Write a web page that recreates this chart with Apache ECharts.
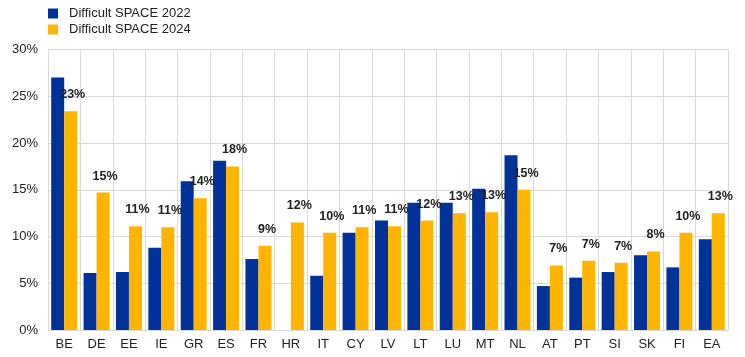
<!DOCTYPE html>
<html><head><meta charset="utf-8">
<script src="https://cdn.jsdelivr.net/npm/echarts@6/dist/echarts.min.js"></script>
<style>html,body{margin:0;padding:0;background:#fff}#c{width:745px;height:357px}</style>
</head><body><div id="c"></div>
<script>
const categories = ['BE','DE','EE','IE','GR','ES','FR','HR','IT','CY','LV','LT','LU','MT','NL','AT','PT','SI','SK','FI','EA'];
const space2022 = [27.0,6.1,6.2,8.8,15.9,18.1,7.6,null,5.8,10.4,11.7,13.6,13.6,15.1,18.7,4.7,5.6,6.2,8.0,6.7,9.7];
const space2024 = [23.4,14.7,11.1,11.0,14.1,17.5,9.0,11.5,10.4,11.0,11.1,11.7,12.5,12.6,15.0,6.9,7.4,7.2,8.4,10.4,12.5];
const seriesNames = ['Difficult SPACE 2022','Difficult SPACE 2024'];
const yTicks = [0,5,10,15,20,25,30];

const chart = echarts.init(document.getElementById('c'));
const font = 'Arial, "Liberation Sans", sans-serif';
chart.setOption({
  animation:false,
  textStyle:{fontFamily:font},
  legend:{
    orient:'vertical', left:43, top:2, itemWidth:10, itemHeight:10, itemGap:3,
    icon:'rect',
    textStyle:{fontSize:13, color:'#222', fontFamily:font, padding:[0,0,0,6]},
    data:seriesNames
  },
  grid:{left:48, right:17, top:49.5, bottom:27, containLabel:false},
  xAxis:{
    type:'category', data:categories,
    axisLine:{show:true, lineStyle:{color:'#d9d9d9', width:1}},
    axisTick:{show:false},
    axisLabel:{color:'#222', fontSize:13, margin:8, fontFamily:font, interval:0},
    splitLine:{show:true, lineStyle:{color:'#d9d9d9', width:1}}
  },
  yAxis:{
    type:'value', min:0, max:30, interval:5,
    axisLabel:{formatter:v=>v+'%', color:'#222', fontSize:13, margin:10, fontFamily:font},
    axisLine:{show:false}, axisTick:{show:false},
    splitLine:{lineStyle:{color:'#d9d9d9', width:1}}
  },
  series:[
    {name:seriesNames[0], type:'bar', data:space2022, barWidth:13, barGap:'0%',
     itemStyle:{color:'#003299'}},
    {name:seriesNames[1], type:'bar', data:space2024, barWidth:13, barGap:'0%',
     itemStyle:{color:'#FFB400'},
     label:{show:true, position:'top', distance:10, offset:[2,0], color:'#222', fontWeight:'bold', fontSize:12.5, fontFamily:font,
       formatter:p=>Math.round(p.value)+'%'}}
  ]
});
</script></body></html>
